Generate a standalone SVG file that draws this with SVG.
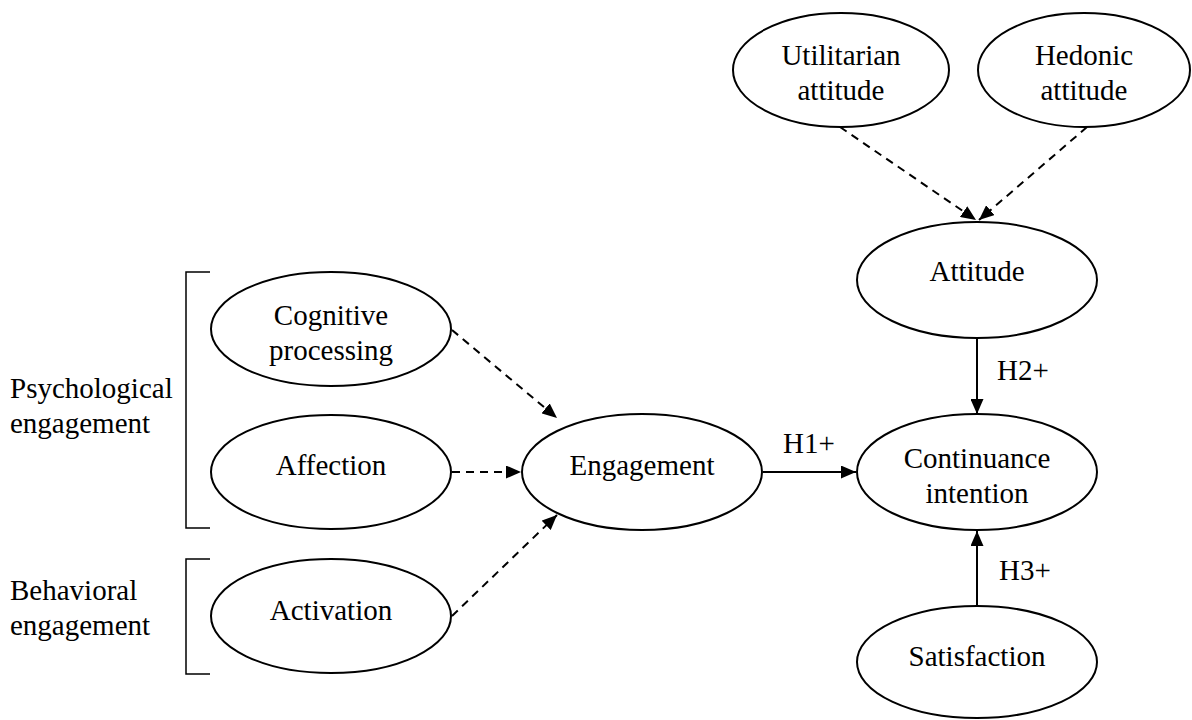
<svg xmlns="http://www.w3.org/2000/svg" width="1192" height="720" viewBox="0 0 1192 720">
<style>
.n{fill:#fff;stroke:#000;stroke-width:2}
.c{stroke:#000;stroke-width:2;fill:none}
.d{stroke-dasharray:8,6}
.b{stroke:#000;stroke-width:1.5;fill:none}
</style>
<defs>
<marker id="ah" markerWidth="15" markerHeight="13" refX="15" refY="6.5" orient="auto" markerUnits="userSpaceOnUse">
<path d="M0,0 L15,6.5 L0,13 Z" fill="#000"/>
</marker>
</defs>
<rect width="1192" height="720" fill="#fff"/>
<g font-family="'Liberation Serif', 'Times New Roman', 'DejaVu Serif', serif" font-size="29" fill="#000">
<g id="connectors">
<line class="c d" x1="840" y1="127" x2="976" y2="220" marker-end="url(#ah)"/>
<line class="c d" x1="1087" y1="127" x2="979" y2="220" marker-end="url(#ah)"/>
<line class="c" x1="977" y1="338" x2="977" y2="414" marker-end="url(#ah)"/>
<line class="c" x1="977" y1="606" x2="977" y2="531" marker-end="url(#ah)"/>
<line class="c" x1="763" y1="472" x2="856" y2="472" marker-end="url(#ah)"/>
<line class="c d" x1="452" y1="330" x2="557" y2="418" marker-end="url(#ah)"/>
<line class="c d" x1="452" y1="472" x2="521" y2="472" marker-end="url(#ah)"/>
<line class="c d" x1="452" y1="616" x2="557" y2="515" marker-end="url(#ah)"/>
<text x="783" y="453">H1+</text>
<text x="997" y="380">H2+</text>
<text x="999" y="580">H3+</text>
</g>
<g id="brackets">
<polyline class="b" points="210,272 186,272 186,528 210,528"/>
<polyline class="b" points="210,559 186,559 186,674 210,674"/>
<text x="10" y="398">Psychological</text>
<text x="10" y="433">engagement</text>
<text x="10" y="600">Behavioral</text>
<text x="10" y="635">engagement</text>
</g>
<g text-anchor="middle">
<g id="utilitarian">
<ellipse class="n" cx="841" cy="70" rx="108" ry="57"/>
<text x="841" y="65">Utilitarian</text>
<text x="841" y="100">attitude</text>
</g>
<g id="hedonic">
<ellipse class="n" cx="1084" cy="70" rx="106" ry="57"/>
<text x="1084" y="65">Hedonic</text>
<text x="1084" y="100">attitude</text>
</g>
<g id="attitude">
<ellipse class="n" cx="977" cy="280" rx="120" ry="58"/>
<text x="977" y="281">Attitude</text>
</g>
<g id="continuance">
<ellipse class="n" cx="977" cy="472" rx="120" ry="58"/>
<text x="977" y="468">Continuance</text>
<text x="977" y="503">intention</text>
</g>
<g id="satisfaction">
<ellipse class="n" cx="977" cy="662" rx="120" ry="56"/>
<text x="977" y="666">Satisfaction</text>
</g>
<g id="engagement">
<ellipse class="n" cx="642" cy="472" rx="120" ry="58"/>
<text x="642" y="475">Engagement</text>
</g>
<g id="cognitive">
<ellipse class="n" cx="331" cy="329" rx="120" ry="57"/>
<text x="331" y="325">Cognitive</text>
<text x="331" y="360">processing</text>
</g>
<g id="affection">
<ellipse class="n" cx="331" cy="472" rx="120" ry="57"/>
<text x="331" y="475">Affection</text>
</g>
<g id="activation">
<ellipse class="n" cx="331" cy="616" rx="120" ry="57"/>
<text x="331" y="620">Activation</text>
</g>
</g>
</g>
</svg>
